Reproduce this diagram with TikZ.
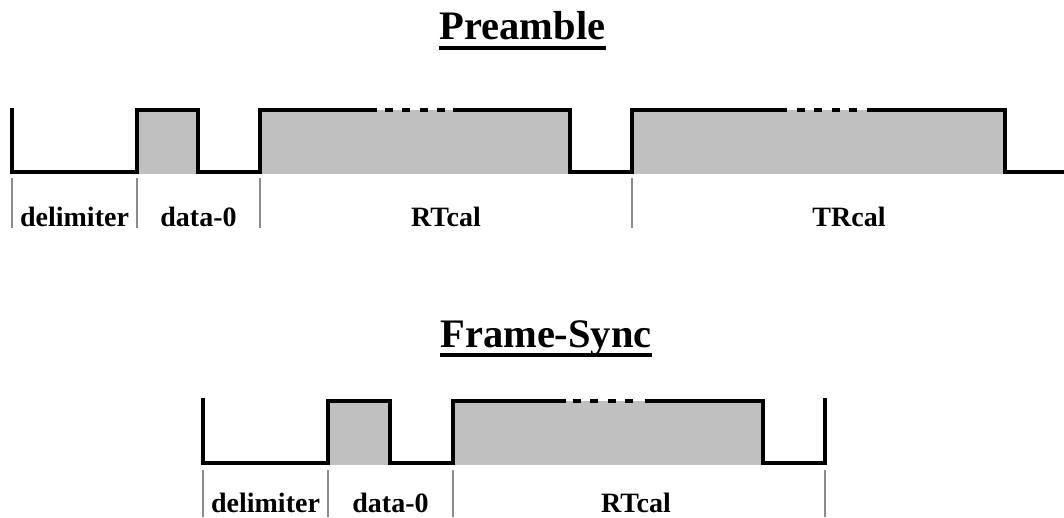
\documentclass[tikz,border=0pt]{standalone}
\usepackage{fontspec}
\setmainfont{Liberation Serif}

\definecolor{pulsefill}{HTML}{C0C0C0}
\definecolor{divgray}{HTML}{8C8C8C}

\begin{document}
\begin{tikzpicture}[x=1pt, y=-1pt,
  wave/.style={line width=4.3pt, draw=black},
  gap/.style={line width=4.3pt, draw=black, dash pattern=on 8pt off 9.3pt},
  pulse/.style={fill=pulsefill},
  divider/.style={draw=divgray, line width=2.5pt},
  lbl/.style={anchor=base, inner sep=0pt, font=\fontsize{28}{30}\selectfont\bfseries},
  ttl/.style={anchor=base, inner sep=0pt, font=\fontsize{40.5}{44}\selectfont\bfseries},
  uline/.style={line width=3.5pt}
]
  \useasboundingbox (0,0) rectangle (1064,517);

  % ---- Preamble ----
  \node[ttl] (pretitle) at (522.5,39) {Preamble};
  \draw[uline] ([yshift=-9pt]pretitle.base west) -- ([yshift=-9pt]pretitle.base east);

  \fill[pulse] (137,110) rectangle (198,174);
  \fill[pulse] (260,110) rectangle (570,174);
  \fill[pulse] (632,110) rectangle (1005,174);

  \draw[wave] (12,108) -- (12,172) -- (137,172) -- (137,110) -- (198,110)
    -- (198,172) -- (260,172) -- (260,110) -- (377,110);
  \draw[gap] (385,110) -- (445,110);
  \draw[wave] (453,110) -- (570,110) -- (570,172) -- (632,172) -- (632,110) -- (787,110);
  \draw[gap] (797,110) -- (857,110);
  \draw[wave] (867,110) -- (1005,110) -- (1005,172) -- (1064,172);

  \foreach \x in {12,137,260,632}
    \draw[divider] (\x,178) -- (\x,228);

  \node[lbl] (pdelim) at (74.5,226) {delimiter};
  \node[lbl] (pdata)  at (198.5,226) {data-0};
  \node[lbl] (prt)    at (446,226) {RTcal};
  \node[lbl] (ptr)    at (849,226) {TRcal};

  % ---- Frame-Sync ----
  \node[ttl] (fstitle) at (546,347) {Frame-Sync};
  \draw[uline] ([yshift=-8pt]fstitle.base west) -- ([yshift=-8pt]fstitle.base east);

  \fill[pulse] (328,401) rectangle (390,465);
  \fill[pulse] (453,401) rectangle (763,465);

  \draw[wave] (203,398) -- (203,463) -- (328,463) -- (328,401) -- (390,401)
    -- (390,463) -- (453,463) -- (453,401) -- (566,401);
  \draw[gap] (573,401) -- (633,401);
  \draw[wave] (645,401) -- (763,401) -- (763,463) -- (825,463) -- (825,398);

  \foreach \x in {203,328,453,825}
    \draw[divider] (\x,470) -- (\x,517);

  \node[lbl] (fdelim) at (265.5,512) {delimiter};
  \node[lbl] (fdata)  at (390.5,512) {data-0};
  \node[lbl] (frt)    at (636,512) {RTcal};
\end{tikzpicture}
\end{document}
